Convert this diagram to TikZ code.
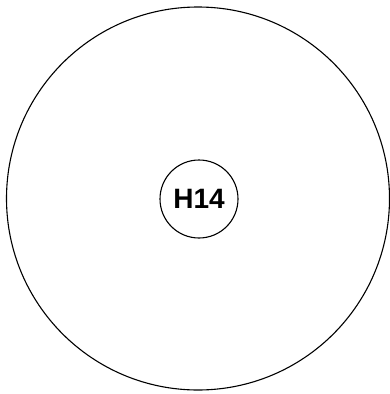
\documentclass[tikz,border=0pt]{standalone}
\usepackage{fontspec}
\setmainfont{Liberation Sans}
\usetikzlibrary{positioning}
\tikzset{ring/.style = {draw, circle, line width=1.1pt, inner sep=0}}
\tikzset{every picture/.style={x=1pt, y=1pt}}

\begin{document}
\begin{tikzpicture}
      \useasboundingbox (0,0) rectangle (390,-394);
      \node[ring, minimum size=383pt] (outer) at (198,-198.5) {};
      \node[ring, minimum size=78pt, font=\bfseries\fontsize{28}{32}\selectfont]
        (h14) at (199,-199) {H14};
    \end{tikzpicture}
\end{document}
